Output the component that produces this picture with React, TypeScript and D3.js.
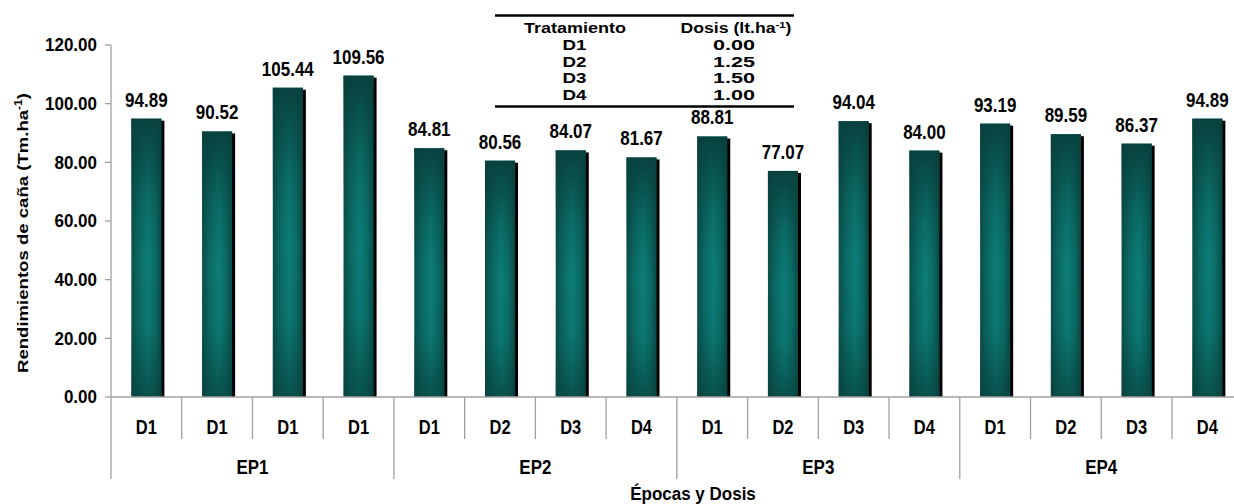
import React from "react";
import * as d3 from "d3";

const epocas = ["EP1", "EP2", "EP3", "EP4"];
const dosisLabels = ["D1", "D1", "D1", "D1", "D1", "D2", "D3", "D4", "D1", "D2", "D3", "D4", "D1", "D2", "D3", "D4"];
const rendimientos = [94.89, 90.52, 105.44, 109.56, 84.81, 80.56, 84.07, 81.67, 88.81, 77.07, 94.04, 84.0, 93.19, 89.59, 86.37, 94.89];
const yTicks = [0, 20, 40, 60, 80, 100, 120];
const tablaTratamiento = ["D1", "D2", "D3", "D4"];
const tablaDosis = ["0.00", "1.25", "1.50", "1.00"];

const W = 1234;
const H = 504;
const X0 = 111;
const X1 = 1242.7;
const Y0 = 397;
const Y1 = 45;
const FONT = "'Liberation Sans', Arial, sans-serif";

export default function App() {
  const idx = rendimientos.map((_, i) => i);
  const x = d3.scaleBand<number>().domain(idx).range([X0, X1]).paddingInner(0.575).paddingOuter(0.2875);
  const y = d3.scaleLinear().domain([0, 120]).range([Y0, Y1]);
  const step = x.step();
  const bw = x.bandwidth();
  const perGroup = 4;

  const stretchText = (tx: number, ty: number, txt: string, size: number, sy: number, key?: any, anchor = "middle") => (
    <g key={key} transform={`translate(${tx},${ty}) scale(1,${sy})`}>
      <text x={0} y={0} fontSize={size} fontWeight="bold" fontFamily={FONT} textAnchor={anchor} fill="#000">
        {txt}
      </text>
    </g>
  );

  return (
    <div style={{ position: "fixed", left: 0, top: 0 }}>
      <svg width={W} height={H} style={{ display: "block", background: "#fff" }}>
        <defs>
          <linearGradient id="barH" x1="0" x2="1" y1="0" y2="0">
            <stop offset="0" stopColor="#0a4d49" />
            <stop offset="0.25" stopColor="#0b6a64" />
            <stop offset="0.55" stopColor="#0c7e77" />
            <stop offset="0.8" stopColor="#0b6b65" />
            <stop offset="1" stopColor="#094a46" />
          </linearGradient>
          <linearGradient id="barV" x1="0" x2="0" y1="0" y2="1">
            <stop offset="0" stopColor="#083f3c" stopOpacity="0.95" />
            <stop offset="0.3" stopColor="#083f3c" stopOpacity="0.25" />
            <stop offset="0.5" stopColor="#083f3c" stopOpacity="0" />
            <stop offset="0.75" stopColor="#083f3c" stopOpacity="0.1" />
            <stop offset="1" stopColor="#083f3c" stopOpacity="0.7" />
          </linearGradient>
        </defs>

        {/* y axis */}
        <line x1={X0} x2={X0} y1={Y1} y2={Y0} stroke="#a0a0a0" strokeWidth={1.3} />
        {yTicks.map((t) => (
          <g key={"yt" + t}>
            <line x1={X0 - 6} x2={X0} y1={y(t)} y2={y(t)} stroke="#a0a0a0" strokeWidth={1.3} />
            {stretchText(97, y(t) + 6.2, t.toFixed(2), 17, 1.08, undefined, "end")}
          </g>
        ))}

        {/* bars */}
        {rendimientos.map((v, i) => {
          const bx = x(i)!;
          const by = y(v);
          const bh = Y0 - by;
          return (
            <g key={"b" + i}>
              <rect x={bx + 3} y={by + 2} width={bw} height={bh - 2} fill="#000" />
              <rect x={bx} y={by} width={bw} height={bh} fill="url(#barH)" />
              <rect x={bx} y={by} width={bw} height={bh} fill="url(#barV)" />
              {stretchText(bx + bw / 2, by - 12, v.toFixed(2), 17, 1.15)}
            </g>
          );
        })}

        {/* x axis */}
        <line x1={X0} x2={X1} y1={Y0} y2={Y0} stroke="#a0a0a0" strokeWidth={1.5} />
        {idx.map((i) => {
          const left = x(i)! - (step - bw) / 2;
          const isGroup = i % perGroup === 0;
          return (
            <line key={"xt" + i} x1={left} x2={left} y1={Y0} y2={isGroup ? 479 : 439} stroke="#a0a0a0" strokeWidth={1.3} />
          );
        })}
        <line x1={X1} x2={X1} y1={Y0} y2={479} stroke="#a0a0a0" strokeWidth={1.3} />
        {dosisLabels.map((d, i) => stretchText(x(i)! + bw / 2, 433.5, d, 16.5, 1.18, "dl" + i))}
        {epocas.map((e, g) => {
          const left = x(g * perGroup)! - (step - bw) / 2;
          return stretchText(left + (step * perGroup) / 2, 474, e, 17, 1.15, "ep" + g);
        })}
        {stretchText(693, 499.5, "Épocas y Dosis", 17, 1.05)}

        {/* y title */}
        <g transform="translate(28,233) rotate(-90)">
          <text x={0} y={0} fontSize={15.5} fontWeight="bold" fontFamily={FONT} textAnchor="middle" textLength={280} lengthAdjust="spacingAndGlyphs" fill="#000">
            Rendimientos de caña (Tm.ha
            <tspan dy={-6} fontSize={10}>-1</tspan>
            <tspan dy={6}>)</tspan>
          </text>
        </g>

        {/* table */}
        <line x1={495} x2={794} y1={15.5} y2={15.5} stroke="#000" strokeWidth={2.5} />
        <line x1={495} x2={794} y1={106.5} y2={106.5} stroke="#000" strokeWidth={2.5} />
        <text x={575} y={33} fontSize={14} fontWeight="bold" fontFamily={FONT} textAnchor="middle" textLength={102} lengthAdjust="spacingAndGlyphs" fill="#000">
          Tratamiento
        </text>
        <text x={736} y={33} fontSize={14} fontWeight="bold" fontFamily={FONT} textAnchor="middle" textLength={111} lengthAdjust="spacingAndGlyphs" fill="#000">
          Dosis (lt.ha
          <tspan dy={-5} fontSize={9}>-1</tspan>
          <tspan dy={5}>)</tspan>
        </text>
        {tablaTratamiento.map((t, i) => (
          <g key={"tr" + i}>
            <text x={574.5} y={50 + i * 16.7} fontSize={14} fontWeight="bold" fontFamily={FONT} textAnchor="middle" textLength={24} lengthAdjust="spacingAndGlyphs" fill="#000">
              {t}
            </text>
            <text x={734} y={50 + i * 16.7} fontSize={14} fontWeight="bold" fontFamily={FONT} textAnchor="middle" textLength={42} lengthAdjust="spacingAndGlyphs" fill="#000">
              {tablaDosis[i]}
            </text>
          </g>
        ))}
      </svg>
    </div>
  );
}
